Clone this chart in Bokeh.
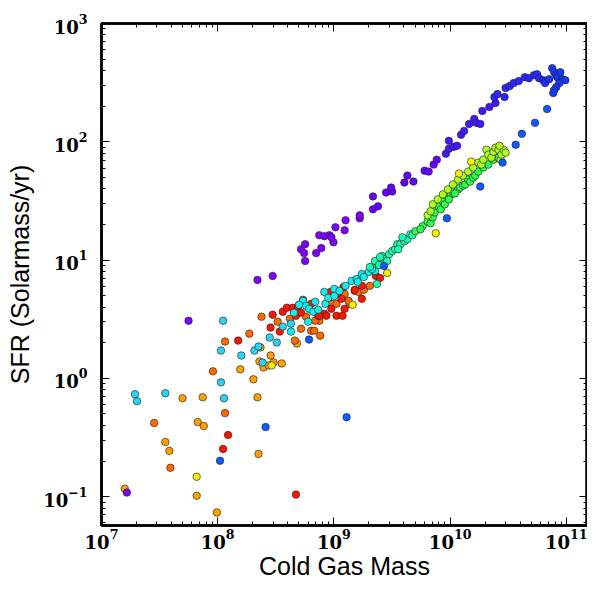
import numpy as np
from bokeh.plotting import figure
from bokeh.models import LogAxis, ColumnDataSource, CustomJSTickFormatter
from bokeh.embed import file_html
from bokeh.resources import INLINE

# ---- data (log10 cold gas mass [Msun], log10 SFR [Msun/yr]) ----
purple_log_mass = [8.342, 8.473, 8.717, 8.752, 8.743, 8.752, 8.847, 8.891, 8.874, 8.917,
                   8.961, 8.996, 8.978, 9.013, 9.092, 9.100, 9.222, 9.222, 7.749, 7.218]
purple_log_sfr = [0.832, 0.866, 1.092, 1.134, 1.059, 0.992, 1.059, 1.101, 1.210, 1.202,
                  1.210, 1.151, 1.193, 1.277, 1.252, 1.336, 1.353, 1.378, 0.487, -0.966]

violet_log_mass = [9.336, 9.379, 9.336, 9.449, 9.501, 9.492, 9.606, 9.632, 9.684, 9.780,
                   9.815, 9.858, 9.885]
violet_log_sfr = [1.429, 1.454, 1.538, 1.571, 1.580, 1.613, 1.655, 1.714, 1.664, 1.756,
                  1.748, 1.807, 1.849]

indigo_log_mass = [9.963, 9.989, 9.989, 10.033, 10.059, 10.094, 10.120, 10.163, 10.207,
                   10.224, 10.259, 10.277, 10.338, 10.390]
indigo_log_sfr = [1.899, 1.941, 2.008, 1.958, 1.966, 2.059, 2.092, 2.151, 2.193,
                  2.160, 2.151, 2.261, 2.294, 2.328]

bluev_log_mass = [10.381, 10.407, 10.468, 10.477, 10.512, 10.547, 10.590, 10.643, 10.678,
                  10.721, 10.747, 10.765, 10.800, 10.817]
bluev_log_sfr = [2.378, 2.403, 2.378, 2.454, 2.471, 2.496, 2.513, 2.546, 2.538,
                 2.563, 2.571, 2.538, 2.521, 2.496]

blue_log_mass = [10.878, 10.895, 10.913, 10.922, 10.965, 10.991, 10.939, 10.913, 10.895,
                 10.887, 10.948, 10.852]
blue_log_sfr = [2.622, 2.588, 2.563, 2.546, 2.529, 2.521, 2.496, 2.462, 2.437,
                2.412, 2.588, 2.529]

lowblue_log_mass = [10.834, 10.730, 10.617, 10.564, 10.451, 10.259, 9.972, 9.431, 8.786,
                    9.109, 8.412, 8.020]
lowblue_log_sfr = [2.277, 2.160, 2.067, 1.975, 1.824, 1.622, 1.353, 0.950, 0.328,
                   -0.328, -0.412, -0.697]

yellow_log_mass = [10.181, 10.076, 9.876, 9.458, 9.161, 8.464, 7.819]
yellow_log_sfr = [1.832, 1.731, 1.227, 0.891, 0.622, 0.109, -0.832]

skycyan_log_mass = [8.046, 8.028, 8.203, 8.316, 8.351, 8.386, 8.028, 7.288, 7.305, 7.549,
                    8.054, 8.447, 8.508, 8.560, 8.630]
skycyan_log_sfr = [0.487, 0.235, 0.193, 0.235, 0.269, 0.134, -0.034, -0.134, -0.193, -0.126,
                   -0.168, 0.345, 0.303, 0.437, 0.462]

amber_log_mass = [8.368, 8.455, 8.359, 8.394, 8.438, 8.481, 8.551, 8.194, 8.307, 7.697,
                  7.871, 8.342, 7.828, 7.880, 7.549, 7.584, 8.351, 7.200, 7.819, 7.993, 8.682]
amber_log_sfr = [0.261, 0.193, 0.143, 0.092, 0.109, 0.134, 0.126, 0.076, -0.008, -0.168,
                 -0.160, -0.160, -0.370, -0.403, -0.538, -0.613, -0.639, -0.933, -0.992, -1.134, 0.294]

orange_log_mass = [8.377, 8.516, 8.063, 8.272, 8.664, 8.717, 8.804, 8.882, 8.830, 8.874,
                   8.839, 8.978, 9.022, 9.092, 9.135, 9.179, 9.213, 9.257, 9.309, 9.126,
                   8.734, 7.453, 7.593, 7.959, 8.063, 8.760, 8.621]
orange_log_sfr = [0.521, 0.479, 0.311, 0.378, 0.319, 0.420, 0.403, 0.361, 0.403, 0.487,
                  0.487, 0.630, 0.630, 0.714, 0.630, 0.739, 0.731, 0.748, 0.782, 0.655,
                  0.664, -0.378, -0.756, 0.059, -0.294, 0.521, 0.504]

red_log_mass = [8.473, 8.560, 8.595, 8.647, 8.691, 8.673, 8.804, 8.865, 8.917, 8.970,
                9.083, 9.092, 9.022, 9.074, 9.240, 9.179, 9.240, 9.362, 9.397, 9.039,
                9.065, 8.874, 8.935, 8.455, 8.534, 8.176, 8.089, 8.046, 8.673, 8.717, 8.978]
red_log_sfr = [0.538, 0.563, 0.597, 0.597, 0.605, 0.529, 0.630, 0.529, 0.546, 0.731,
               0.773, 0.588, 0.529, 0.529, 0.672, 0.748, 0.782, 0.866, 0.849, 0.723,
               0.672, 0.529, 0.529, 0.429, 0.395, 0.319, -0.479, -0.597, -0.983, 0.555, 0.588]

cyan_log_mass = [8.630, 8.656, 8.734, 8.760, 8.786, 8.821, 8.865, 8.778, 8.926, 8.917,
                 8.952, 9.004, 9.004, 9.100, 9.152, 9.196, 9.205, 9.240, 9.301, 9.353,
                 9.048, 8.699, 8.839, 9.257, 9.327]
cyan_log_sfr = [0.395, 0.555, 0.655, 0.613, 0.588, 0.563, 0.580, 0.479, 0.630, 0.731,
                0.681, 0.756, 0.697, 0.782, 0.824, 0.840, 0.815, 0.882, 0.899, 0.908,
                0.739, 0.622, 0.647, 0.857, 0.924]

teal_log_mass = [9.370, 9.353, 9.388, 9.414, 9.440, 9.475, 9.501, 9.527, 9.545, 9.571,
                 9.606, 9.632, 9.658, 9.589, 9.458, 9.397, 9.370, 9.309, 9.553, 9.675]
teal_log_sfr = [0.983, 0.992, 0.958, 1.034, 1.008, 1.050, 1.076, 1.092, 1.134, 1.134,
                1.160, 1.176, 1.218, 1.193, 0.992, 1.025, 0.798, 0.941, 1.092, 1.210]

green_log_mass = [9.702, 9.763, 9.745, 9.806, 9.832, 9.850, 9.867, 9.902, 9.919, 9.937,
                  9.954, 9.980, 10.007, 10.024, 10.068, 10.085, 10.111, 10.129, 10.155,
                  10.172, 10.198, 10.216, 10.242, 10.285, 10.329, 10.373, 10.416, 10.041, 9.989]
green_log_sfr = [1.244, 1.286, 1.261, 1.328, 1.311, 1.361, 1.403, 1.454, 1.429, 1.496,
                 1.471, 1.538, 1.555, 1.580, 1.597, 1.613, 1.630, 1.639, 1.681,
                 1.664, 1.697, 1.714, 1.748, 1.782, 1.807, 1.849, 1.866, 1.563, 1.513]

ygreen_log_mass = [9.806, 9.832, 9.850, 9.893, 9.937, 9.980, 10.024, 10.068, 10.111, 10.155,
                   10.198, 10.242, 10.268, 10.285, 10.312, 10.329, 10.355, 10.373, 10.390,
                   10.416, 10.434, 10.442, 10.460, 10.477, 10.425]
ygreen_log_sfr = [1.378, 1.412, 1.471, 1.513, 1.555, 1.597, 1.639, 1.681, 1.714, 1.748,
                  1.782, 1.824, 1.807, 1.849, 1.933, 1.891, 1.866, 1.916, 1.950,
                  1.933, 1.849, 1.891, 1.933, 1.908, 1.966]

series = [
    ("amber", "#ffa000", amber_log_mass, amber_log_sfr),
    ("orange", "#ff6a00", orange_log_mass, orange_log_sfr),
    ("red", "#ff1400", red_log_mass, red_log_sfr),
    ("skycyan", "#2ed2f2", skycyan_log_mass, skycyan_log_sfr),
    ("cyan", "#14f0ee", cyan_log_mass, cyan_log_sfr),
    ("teal", "#1effae", teal_log_mass, teal_log_sfr),
    ("green", "#2cff4c", green_log_mass, green_log_sfr),
    ("ygreen", "#b0ff1e", ygreen_log_mass, ygreen_log_sfr),
    ("yellow", "#f8f000", yellow_log_mass, yellow_log_sfr),
    ("purple", "#8000ff", purple_log_mass, purple_log_sfr),
    ("violet", "#6400ff", violet_log_mass, violet_log_sfr),
    ("indigo", "#4418ff", indigo_log_mass, indigo_log_sfr),
    ("bluev", "#2a28ff", bluev_log_mass, bluev_log_sfr),
    ("blue", "#1636ff", blue_log_mass, blue_log_sfr),
    ("lowblue", "#1058ff", lowblue_log_mass, lowblue_log_sfr),
]

p = figure(width=587, height=582, x_axis_type="log", y_axis_type="log",
           x_range=(1e7, 1.52e11), y_range=(0.057, 1000),
           output_backend="svg", toolbar_location=None,
           min_border_left=101, min_border_top=23, min_border_right=0, min_border_bottom=0)

bottom = p.below[0]
left = p.left[0]

for name, color, lm, ls in series:
    src = ColumnDataSource(dict(x=10 ** np.array(lm), y=10 ** np.array(ls)))
    p.scatter("x", "y", source=src, size=7.5, fill_color=color,
              line_color="#222222", line_width=0.7, line_alpha=0.9)

p.grid.visible = False
p.outline_line_color = "black"
p.outline_line_width = 2.5
p.outline_line_alpha = 1

top = LogAxis(formatter=CustomJSTickFormatter(code="return '';"))
right = LogAxis(formatter=CustomJSTickFormatter(code="return '';"))
p.add_layout(top, "above")
p.add_layout(right, "right")

for ax in [bottom, left, top, right]:
    ax.ticker.num_minor_ticks = 10
    ax.major_tick_in = 8
    ax.major_tick_out = 0
    ax.minor_tick_in = 4
    ax.minor_tick_out = 0
    ax.axis_line_width = 2.5
    ax.major_tick_line_width = 1
    ax.minor_tick_line_width = 1
    ax.major_label_text_font = "DejaVu Serif"
    ax.major_label_text_font_style = "bold"
    ax.major_label_text_font_size = "18px"
    ax.major_label_text_color = "black"

for ax in [top, right]:
    ax.major_label_text_font_size = "1px"
    ax.major_label_standoff = 0

bottom.axis_label = "Cold Gas Mass"
left.axis_label = "SFR (Solarmass/yr)"
for ax in [bottom, left]:
    ax.axis_label_text_font = "Liberation Sans"
    ax.axis_label_text_font_style = "normal"
    ax.axis_label_text_font_size = "25px"
    ax.axis_label_text_color = "black"
bottom.major_label_standoff = 3
bottom.axis_label_standoff = 0
left.major_label_standoff = 14
left.axis_label_standoff = 6

open("out.html", "w").write(file_html(p, INLINE))
